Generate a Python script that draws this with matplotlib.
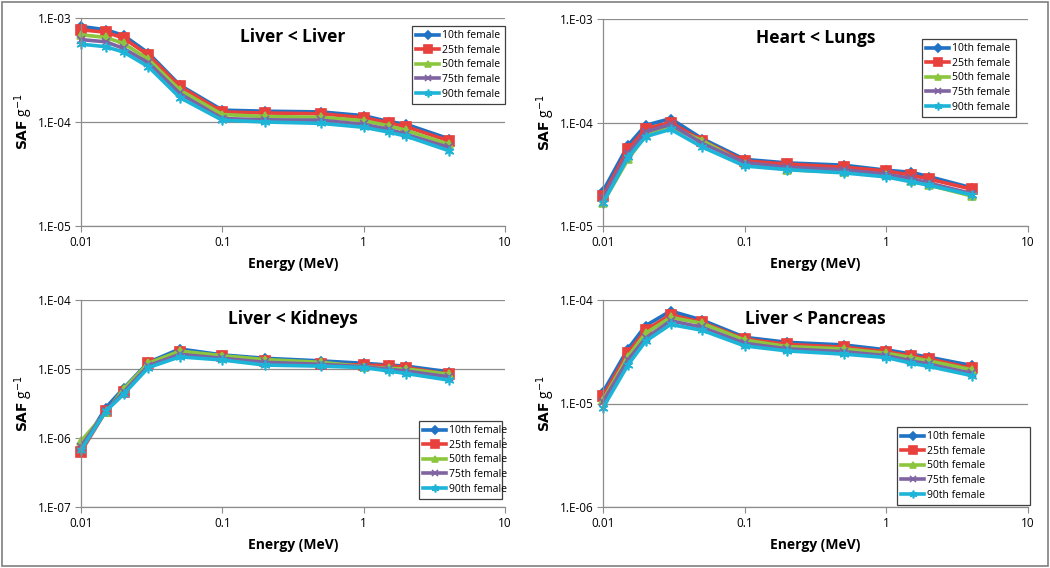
import math
import matplotlib.pyplot as plt
from matplotlib.patches import Rectangle
from matplotlib.ticker import FixedLocator, NullLocator

plt.rcParams['font.family'] = ['Open Sans', 'DejaVu Sans']

energy = [0.01, 0.015, 0.02, 0.03, 0.05, 0.1, 0.2, 0.5, 1, 1.5, 2, 4]
series_names = ['10th female', '25th female', '50th female', '75th female', '90th female']

# Liver < Liver
liver_liver = [
    [8.3e-4, 7.7e-4, 6.8e-4, 4.6e-4, 2.26e-4, 1.30e-4, 1.27e-4, 1.25e-4, 1.15e-4, 1.01e-4, 9.5e-5, 6.9e-5],
    [7.7e-4, 7.3e-4, 6.4e-4, 4.4e-4, 2.2e-4, 1.25e-4, 1.22e-4, 1.2e-4, 1.1e-4, 9.8e-5, 9.0e-5, 6.6e-5],
    [6.9e-4, 6.5e-4, 5.7e-4, 4.0e-4, 2.03e-4, 1.18e-4, 1.13e-4, 1.11e-4, 1.03e-4, 9.2e-5, 8.3e-5, 6.1e-5],
    [6.2e-4, 5.9e-4, 5.1e-4, 3.7e-4, 1.88e-4, 1.08e-4, 1.05e-4, 1.04e-4, 9.5e-5, 8.5e-5, 7.6e-5, 5.7e-5],
    [5.6e-4, 5.3e-4, 4.7e-4, 3.4e-4, 1.72e-4, 1.04e-4, 1.0e-4, 9.7e-5, 8.9e-5, 8.0e-5, 7.3e-5, 5.3e-5],
]
# Heart < Lungs
heart_lungs = [
    [2.17e-5, 6.0e-5, 9.4e-5, 1.09e-4, 7.0e-5, 4.4e-5, 4.07e-5, 3.87e-5, 3.46e-5, 3.3e-5, 3.0e-5, 2.34e-5],
    [1.95e-5, 5.5e-5, 8.7e-5, 1.0e-4, 6.7e-5, 4.25e-5, 3.96e-5, 3.7e-5, 3.4e-5, 3.1e-5, 2.84e-5, 2.27e-5],
    [1.68e-5, 4.4e-5, 7.5e-5, 9.0e-5, 6.7e-5, 4.0e-5, 3.5e-5, 3.3e-5, 3.1e-5, 2.73e-5, 2.48e-5, 1.95e-5],
    [1.85e-5, 5.0e-5, 8.1e-5, 9.6e-5, 6.3e-5, 4.1e-5, 3.7e-5, 3.5e-5, 3.16e-5, 2.88e-5, 2.6e-5, 2.06e-5],
    [1.68e-5, 4.6e-5, 7.3e-5, 8.6e-5, 5.8e-5, 3.8e-5, 3.5e-5, 3.26e-5, 2.98e-5, 2.67e-5, 2.48e-5, 2.0e-5],
]
# Liver < Kidneys
liver_kidneys = [
    [7.1e-7, 2.75e-6, 5.25e-6, 1.25e-5, 1.95e-5, 1.6e-5, 1.43e-5, 1.31e-5, 1.21e-5, 1.14e-5, 1.1e-5, 9.1e-6],
    [6.3e-7, 2.46e-6, 4.7e-6, 1.21e-5, 1.78e-5, 1.54e-5, 1.31e-5, 1.18e-5, 1.14e-5, 1.12e-5, 1.05e-5, 8.4e-6],
    [9.0e-7, 2.35e-6, 5.1e-6, 1.21e-5, 1.82e-5, 1.56e-5, 1.37e-5, 1.25e-5, 1.08e-5, 1.02e-5, 1.0e-5, 8.4e-6],
    [7.5e-7, 2.5e-6, 4.6e-6, 1.12e-5, 1.63e-5, 1.43e-5, 1.25e-5, 1.17e-5, 1.08e-5, 9.9e-6, 9.35e-6, 7.7e-6],
    [6.7e-7, 2.46e-6, 4.3e-6, 1.05e-5, 1.5e-5, 1.35e-5, 1.14e-5, 1.1e-5, 1.05e-5, 9.35e-6, 8.6e-6, 6.9e-6],
]
# Liver < Pancreas
liver_pancreas = [
    [1.29e-5, 3.37e-5, 5.65e-5, 7.83e-5, 6.4e-5, 4.36e-5, 3.9e-5, 3.68e-5, 3.3e-5, 3.0e-5, 2.8e-5, 2.33e-5],
    [1.18e-5, 3.1e-5, 5.1e-5, 7.2e-5, 6.1e-5, 4.2e-5, 3.73e-5, 3.5e-5, 3.17e-5, 2.88e-5, 2.7e-5, 2.19e-5],
    [1.08e-5, 2.84e-5, 4.77e-5, 6.8e-5, 5.95e-5, 4.1e-5, 3.55e-5, 3.37e-5, 3.06e-5, 2.78e-5, 2.58e-5, 2.12e-5],
    [1.04e-5, 2.64e-5, 4.27e-5, 6.3e-5, 5.45e-5, 3.82e-5, 3.37e-5, 3.17e-5, 2.9e-5, 2.58e-5, 2.4e-5, 1.96e-5],
    [9.1e-6, 2.36e-5, 4.0e-5, 5.8e-5, 5.1e-5, 3.6e-5, 3.22e-5, 3.0e-5, 2.78e-5, 2.45e-5, 2.28e-5, 1.86e-5],
]

colors = ['#1F72C4', '#E8403C', '#8CC63F', '#8064A2', '#1DB4D8']
markers = ['D', 's', '^', 'x', (6, 2, 0)]
msizes = [4.5, 6.5, 6, 6, 7]

W, H = 1050, 568
fig = plt.figure(figsize=(10.5, 5.68), dpi=100)
fig.patches.append(Rectangle((2 / W, 2 / H), 1 - 4 / W, 1 - 4 / H, transform=fig.transFigure,
                             fill=False, edgecolor='#7F7F7F', linewidth=1.2))

panels = [
    ('Liver < Liver', liver_liver, (81, 505, 18, 226), (1e-5, 1e-3), (412, 26, 505, 103)),
    ('Heart < Lungs', heart_lungs, (603, 1028, 19, 226), (1e-5, 1e-3), (922, 39, 1016, 118)),
    ('Liver < Kidneys', liver_kidneys, (81, 505, 300, 507), (1e-7, 1e-4), (419, 421, 502, 493)),
    ('Liver < Pancreas', liver_pancreas, (603, 1028, 300, 507), (1e-6, 1e-4), (897, 427, 1030, 505)),
]

for title, data, (l, r, t, b), ylim, (lx0, ly0, lx1, ly1) in panels:
    ax = fig.add_axes([l / W, 1 - b / H, (r - l) / W, (b - t) / H])
    for vals, name, c, m, ms in zip(data, series_names, colors, markers, msizes):
        ax.plot(energy, vals, color=c, marker=m, markersize=ms, linewidth=2.6,
                markeredgewidth=1.2, label=name, clip_on=False)
    ax.set_xscale('log')
    ax.set_yscale('log')
    ax.set_xlim(0.01, 10)
    ax.set_ylim(*ylim)
    ax.xaxis.set_major_locator(FixedLocator([0.01, 0.1, 1, 10]))
    ax.xaxis.set_minor_locator(NullLocator())
    ax.set_xticklabels(['0.01', '0.1', '1', '10'])
    decs = []
    v = ylim[0]
    while v <= ylim[1] * 1.001:
        decs.append(v)
        v *= 10
    ax.yaxis.set_major_locator(FixedLocator(decs))
    ax.yaxis.set_minor_locator(NullLocator())
    ax.set_yticklabels(['1.E-%02d' % round(-math.log10(d)) for d in decs])
    ax.tick_params(labelsize=8.5, length=4, color='#8C8C8C', pad=3)
    ax.grid(axis='y', color='#8C8C8C', linewidth=0.9)
    ax.set_axisbelow(True)
    for s in ['top', 'right']:
        ax.spines[s].set_visible(False)
    for s in ['left', 'bottom']:
        ax.spines[s].set_color('#8C8C8C')
        ax.spines[s].set_linewidth(0.9)
    ax.text(0.5, 0.91, title, transform=ax.transAxes, ha='center', va='center',
            fontsize=12.5, fontweight='bold')
    ax.set_xlabel('Energy (MeV)', fontsize=10, fontweight='bold', labelpad=6)
    ax.set_ylabel(r'$\mathbf{SAF}$ g$^{-1}$', fontsize=10, labelpad=2)
    bx = (lx0 - l) / (r - l)
    by = 1 - (ly1 - t) / (b - t)
    bw = (lx1 - lx0) / (r - l)
    bh = (ly1 - ly0) / (b - t)
    leg = ax.legend(loc='upper left', bbox_to_anchor=(bx, by, bw, bh),
                    mode='expand', fontsize=7.5, fancybox=False, framealpha=1, edgecolor='#404040',
                    borderaxespad=0, handlelength=2.2, handletextpad=0.3, labelspacing=0.35,
                    borderpad=0.4, markerscale=0.8)
    leg.get_frame().set_linewidth(0.9)

fig.savefig('out.png', dpi=100)
